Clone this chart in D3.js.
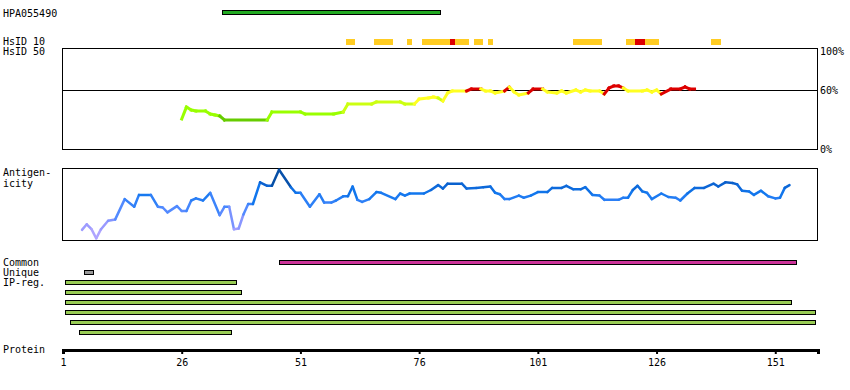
<!DOCTYPE html>
<html>
<head>
<meta charset="utf-8">
<script src="https://cdn.jsdelivr.net/npm/d3@7"></script>
<style>
    body { margin: 0; background: #fff; }
    text { font-family: "DejaVu Sans Mono", monospace; font-size: 10px; fill: #000; }
</style>
</head>
<body>
<div id="chart"></div>
<script>
// protein length and axis ticks
var proteinEnd = 160;
var tickValues = [1, 26, 51, 76, 101, 126, 151];

// antigen fragment (residues)
var antigenName = "HPA055490";
var antigen = [35, 80];

// HsID 10 segments: [start, end, level]
var hsid10 = [
    [61, 62, "y"], [67, 70, "y"], [74, 74, "y"], [77, 82, "y"], [83, 83, "r"],
    [84, 86, "y"], [88, 89, "y"], [91, 91, "y"], [109, 114, "y"], [120, 121, "y"],
    [122, 123, "r"], [124, 126, "y"], [138, 139, "y"]
];

// HsID 50 identity (%) per residue
var hsidRes = [26, 27, 28, 29, 31, 32, 33, 34, 35, 44, 45, 51, 52, 58, 60, 61, 66, 67, 72, 73,
    75, 76, 78, 79, 80, 81, 82, 83, 86, 87, 89, 90, 91, 92, 94, 95, 96, 97, 99, 100,
    102, 103, 105, 106, 107, 109, 110, 111, 112, 114, 115, 116, 117, 118, 119, 120, 123, 124, 125, 126,
    127, 129, 131, 132, 133, 134];
var hsidVal = [31, 43, 40, 39, 39, 36, 35, 34, 30, 30, 38, 38, 36, 36, 38, 46, 46, 48, 48, 46,
    46, 51, 52, 53, 52, 49, 57, 59, 59, 61, 61, 59, 59, 57, 59, 63, 58, 55, 57, 61,
    61, 58, 57, 59, 57, 60, 58, 60, 59, 59, 56, 62, 64, 64, 62, 59, 59, 60, 58, 60,
    56, 61, 61, 63, 61, 61];

// antigenicity score (0-1) per residue
var agRes = [5, 6, 7, 8, 9, 10.5, 12, 14, 16, 17, 19.5, 21, 22, 23, 25, 26, 27, 28, 29, 30.5,
    32, 34, 35, 36, 37, 38, 39, 40, 41, 42.5, 44, 45, 46.5, 49, 50, 51, 53, 55, 56, 57.5,
    58.5, 60, 61, 62, 63, 64, 65.5, 67, 68, 71, 72, 73, 74, 77, 78.5, 80, 81, 82, 85, 86,
    88, 89.5, 91, 92, 93, 94, 95, 97, 98, 99.5, 101, 103, 104, 106, 107, 108.5, 110, 111, 112.5, 114,
    115, 118, 119, 120, 121, 122, 123, 124, 125, 127, 128.5, 130, 131, 132.5, 134, 136, 138, 139, 140.5, 142,
    143, 144, 145.5, 146.5, 148, 149.5, 151, 152, 153, 154];
var agVal = [0.13, 0.21, 0.14, 0.01, 0.14, 0.26, 0.28, 0.57, 0.46, 0.63, 0.63, 0.46, 0.45, 0.38, 0.47, 0.40, 0.40, 0.55, 0.58, 0.55,
    0.66, 0.34, 0.46, 0.46, 0.14, 0.15, 0.35, 0.50, 0.50, 0.81, 0.76, 0.76, 0.99, 0.74, 0.66, 0.66, 0.46, 0.64, 0.52, 0.52,
    0.55, 0.61, 0.61, 0.75, 0.56, 0.53, 0.57, 0.67, 0.66, 0.57, 0.65, 0.62, 0.65, 0.65, 0.70, 0.77, 0.72, 0.79, 0.79, 0.72,
    0.73, 0.74, 0.75, 0.66, 0.64, 0.57, 0.57, 0.62, 0.59, 0.62, 0.67, 0.67, 0.73, 0.73, 0.76, 0.71, 0.71, 0.74, 0.63, 0.62,
    0.56, 0.56, 0.59, 0.59, 0.70, 0.76, 0.68, 0.66, 0.57, 0.65, 0.60, 0.59, 0.55, 0.65, 0.73, 0.73, 0.79, 0.75, 0.81, 0.80,
    0.78, 0.69, 0.68, 0.63, 0.69, 0.61, 0.58, 0.59, 0.73, 0.77];

// bottom tracks
var common = [[47, 155]];
var unique = [[6, 7]];
var ipReg = [[2, 37], [2, 38], [2, 154], [2, 159], [3, 159], [5, 36]];

var width = 850, height = 390;

var svg = d3.select("#chart").append("svg")
    .attr("width", width)
    .attr("height", height);

var x = d3.scaleLinear().domain([1, proteinEnd]).range([63, 818]);
var yHs = d3.scaleLinear().domain([0, 100]).range([150, 50]);
var yAg = d3.scaleLinear().domain([0, 1]).range([239, 169]);

function label(txt, lx, ly) {
    svg.append("text").attr("x", lx).attr("y", ly).text(txt);
}

//Antigen bar
label(antigenName, 3, 17);
svg.append("rect")
    .attr("x", x(antigen[0] - 0.5))
    .attr("y", 10.5)
    .attr("width", x(antigen[1] + 0.5) - x(antigen[0] - 0.5))
    .attr("height", 4)
    .attr("fill", "#22aa22")
    .attr("stroke", "#000")
    .attr("shape-rendering", "crispEdges");

//HsID 10 track
label("HsID 10", 3, 45);
label("HsID 50", 3, 55);
svg.selectAll("rect.hs10")
    .data(hsid10)
    .enter().append("rect")
    .attr("class", "hs10")
    .attr("x", function (d) { return x(d[0] - 0.5); })
    .attr("y", 39)
    .attr("width", function (d) { return x(d[1] + 0.5) - x(d[0] - 0.5); })
    .attr("height", 6)
    .attr("fill", function (d) { return d[2] == "r" ? "#dd0000" : "#ffcc22"; })
    .attr("shape-rendering", "crispEdges");

//HsID 50 panel
svg.append("rect")
    .attr("x", 62.5).attr("y", 48.5)
    .attr("width", 755).attr("height", 101)
    .attr("fill", "none").attr("stroke", "#000")
    .attr("shape-rendering", "crispEdges");
svg.append("line")
    .attr("x1", 62.5).attr("x2", 817.5)
    .attr("y1", Math.round(yHs(60)) + 0.5).attr("y2", Math.round(yHs(60)) + 0.5)
    .attr("stroke", "#000")
    .attr("shape-rendering", "crispEdges");
label("100%", 820, 55);
label("60%", 820, 94);
label("0%", 820, 153);

function hsColor(v) {
    if (v > 60) return "#dd0000";
    if (v >= 50) return "#ffff22";
    if (v >= 45) return "#ccff11";
    if (v >= 32) return "#99ff00";
    return "#66cc00";
}

var hsPairs = d3.pairs(d3.zip(hsidRes, hsidVal));
svg.selectAll("line.hs50")
    .data(hsPairs)
    .enter().append("line")
    .attr("class", "hs50")
    .attr("x1", function (d) { return x(d[0][0]); })
    .attr("y1", function (d) { return yHs(d[0][1]); })
    .attr("x2", function (d) { return x(d[1][0]); })
    .attr("y2", function (d) { return yHs(d[1][1]); })
    .attr("stroke", function (d) { return hsColor(d[1][1]); })
    .attr("stroke-width", 3)
    .attr("stroke-linecap", "square");

//Antigenicity panel
label("Antigen-", 3, 176);
label("icity", 3, 187);
svg.append("rect")
    .attr("x", 62.5).attr("y", 168.5)
    .attr("width", 755).attr("height", 72)
    .attr("fill", "none").attr("stroke", "#000")
    .attr("shape-rendering", "crispEdges");

var agColor = d3.scaleLinear()
    .domain([0, 0.2, 0.45, 0.65, 0.8, 1])
    .range(["#bbaaff", "#9999ff", "#4a88ff", "#1177ee", "#0a5fcc", "#003366"]);

var agPairs = d3.pairs(d3.zip(agRes, agVal));
svg.selectAll("line.ag")
    .data(agPairs)
    .enter().append("line")
    .attr("class", "ag")
    .attr("x1", function (d) { return x(d[0][0]); })
    .attr("y1", function (d) { return yAg(d[0][1]); })
    .attr("x2", function (d) { return x(d[1][0]); })
    .attr("y2", function (d) { return yAg(d[1][1]); })
    .attr("stroke", function (d) { return agColor((d[0][1] + d[1][1]) / 2); })
    .attr("stroke-width", 2.5)
    .attr("stroke-linecap", "round");

//Bottom tracks
label("Common", 3, 266);
label("Unique", 3, 276);
label("IP-reg.", 3, 286);

function bars(data, cls, y0, step, fill) {
    svg.selectAll("rect." + cls)
        .data(data)
        .enter().append("rect")
        .attr("class", cls)
        .attr("x", function (d) { return x(d[0] - 0.5); })
        .attr("y", function (d, i) { return y0 + i * step; })
        .attr("width", function (d) { return x(d[1] + 0.5) - x(d[0] - 0.5); })
        .attr("height", 4)
        .attr("fill", fill)
        .attr("stroke", "#000")
        .attr("shape-rendering", "crispEdges");
}
bars(common, "common", 260.5, 10, "#cc3399");
bars(unique, "unique", 270.5, 10, "#999999");
bars(ipReg, "ip", 280.5, 10, "#99cc55");

//Protein axis
label("Protein", 3, 353);
var axis = svg.append("g")
    .attr("transform", "translate(0,350)")
    .call(d3.axisBottom(x).tickValues(tickValues).tickSize(4).tickSizeOuter(4).tickPadding(5));
axis.select(".domain").attr("stroke-width", 3);
axis.selectAll(".tick line").attr("stroke-width", 2);
axis.selectAll("text")
    .style("font-family", "DejaVu Sans Mono, monospace")
    .style("font-size", "10px");
axis.attr("font-family", null).attr("font-size", null);
</script>
</body>
</html>
